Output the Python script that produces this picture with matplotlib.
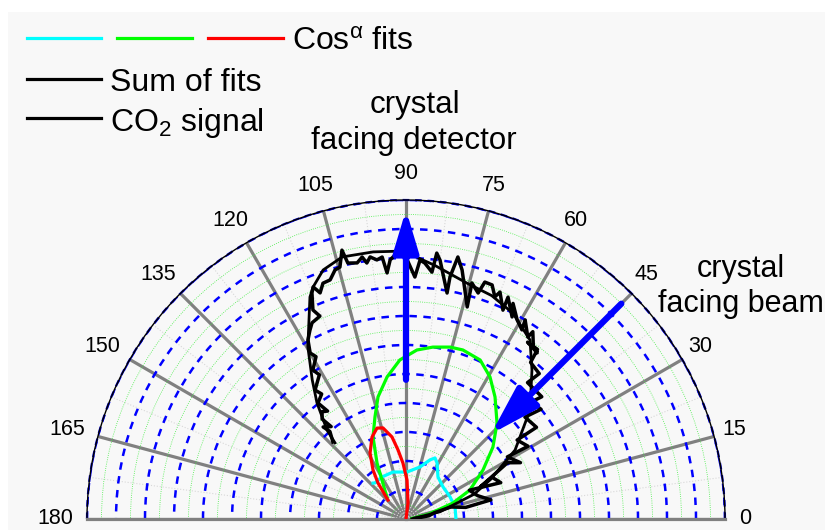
import numpy as np
import matplotlib
matplotlib.use('Agg')
import matplotlib.pyplot as plt
from matplotlib.ticker import FixedLocator, NullFormatter
from matplotlib.lines import Line2D
from matplotlib.patches import Rectangle

plt.rcParams['font.family'] = ['Liberation Sans', 'DejaVu Sans']
plt.rcParams['mathtext.fontset'] = 'custom'
plt.rcParams['mathtext.rm'] = 'Liberation Sans'
plt.rcParams['mathtext.it'] = 'Liberation Sans:italic'

# ---------------- data (angle in degrees, radius) ----------------
signal_deg = [3, 8, 12.5, 15, 11, 12.7, 18, 24.4, 21, 25.8, 23.4, 29, 26.2, 31.5, 30.8, 35.4,
              35.1, 40.6, 39.1, 43.1, 42, 48.3, 47.5, 51.5, 52.2, 55.5, 51.7, 53.6, 55.9, 56.2,
              59.1, 58.5, 60.8, 63.6, 62.3, 65.3, 65.1, 67.5, 68.2, 69.8, 71.6, 72.3, 74.4, 73.9,
              77.3, 78.8, 79.7, 79.7, 82.5, 83.4, 84, 85.8, 86.9, 87.9, 90.2, 91.3, 93.5, 94.4,
              95.2, 96.4, 97.8, 98.7, 99.5, 100.8, 102.8, 103.1, 103.4, 104.7, 105.9, 107.6,
              109.4, 110.8, 111.8, 112.6, 114, 113, 115.6, 117, 118.7, 120, 119, 122, 121,
              125.2, 124, 127.2, 126, 128, 130, 129, 132, 131, 133.5]
signal_r = [0.03, 0.08, 0.10, 0.16, 0.21, 0.30, 0.26, 0.24, 0.35, 0.33, 0.28, 0.40, 0.44, 0.41,
            0.49, 0.47, 0.55, 0.54, 0.60, 0.59, 0.63, 0.63, 0.68, 0.69, 0.74, 0.74, 0.73, 0.74,
            0.78, 0.755, 0.80, 0.765, 0.786, 0.83, 0.787, 0.842, 0.794, 0.847, 0.825, 0.86,
            0.861, 0.818, 0.845, 0.761, 0.88, 0.921, 0.848, 0.792, 0.90, 0.923, 0.856, 0.885,
            0.894, 0.835, 0.91, 0.928, 0.895, 0.851, 0.907, 0.899, 0.912, 0.893, 0.916, 0.899,
            0.905, 0.928, 0.953, 0.898, 0.893, 0.865, 0.862, 0.834, 0.862, 0.844, 0.789, 0.76,
            0.75, 0.73, 0.704, 0.661, 0.64, 0.606, 0.58, 0.544, 0.52, 0.502, 0.46, 0.47, 0.45,
            0.41, 0.427, 0.40, 0.366]

sum_deg = [2, 12, 20, 25, 32.3, 41.3, 49.8, 55.3, 62.6, 69, 75.5, 83.5, 90.6, 97, 103.7,
           108.4, 111.8, 113.4, 119.7, 124, 127.5, 131.6, 133]
sum_r = [0.02, 0.12, 0.25, 0.32, 0.445, 0.569, 0.673, 0.751, 0.80, 0.825, 0.84, 0.88, 0.924,
         0.928, 0.93, 0.905, 0.862, 0.834, 0.683, 0.578, 0.504, 0.41, 0.359]

cyan_deg = [0, 2.3, 13.8, 26.6, 40.9, 52.7, 61, 64.6, 67.9, 74.9, 88.8, 105.5, 119.7, 130.7, 132.5]
cyan_r = [0.172, 0.172, 0.174, 0.170, 0.169, 0.182, 0.221, 0.233, 0.220, 0.186, 0.162, 0.168,
          0.167, 0.164, 0.168]

green_deg = [5, 12, 18.8, 24.4, 32.5, 39.6, 46.5, 53.9, 59.4, 65.0, 71.4, 75.6, 81.1, 86.3,
             92.2, 97.6, 102.9, 106.9, 111.9, 117.4, 121.6, 126, 130.8]
green_r = [0.02, 0.08, 0.171, 0.242, 0.315, 0.389, 0.456, 0.521, 0.569, 0.605, 0.615, 0.612,
           0.600, 0.584, 0.549, 0.494, 0.432, 0.368, 0.305, 0.217, 0.158, 0.125, 0.10]

red_deg = [75, 82.9, 88.5, 93.1, 96.6, 99.7, 104.2, 107.7, 112.5, 118.6, 123.9, 127.9, 131.2, 133.5]
red_r = [0.0, 0.056, 0.134, 0.193, 0.240, 0.287, 0.324, 0.329, 0.306, 0.259, 0.204, 0.157,
         0.110, 0.090]

# arrows: (angle, tail r, tip r)
arrow_detector = (90, 0.48, 1.066)
arrow_beam = (45, 1.05, 0.415)

angle_ticks = list(range(0, 181, 15))
angle_labels = [str(a) for a in angle_ticks]

# ---------------- figure ----------------
W, H = 825, 530
fig = plt.figure(figsize=(W / 100, H / 100), dpi=100)
fig.patch.set_facecolor('white')
fig.add_artist(Rectangle((8 / W, 0), (W - 8) / W, (H - 12) / H, transform=fig.transFigure,
                         facecolor='#f8f8f8', edgecolor='none', zorder=-10))

cx, cy, R = 406, 519, 319
# half-disk occupies the full width and the middle half of a square axes box
ax = fig.add_axes([(cx - R) / W, (H - (cy + R / 2)) / H, 2 * R / W, 2 * R / H],
                  projection='polar')
ax.set_aspect('auto')
ax.set_facecolor('none')
ax.set_thetamin(0)
ax.set_thetamax(180)
ax.set_ylim(0, 1.1)

ax.xaxis.set_major_locator(FixedLocator(np.deg2rad(angle_ticks)))
ax.xaxis.set_minor_locator(FixedLocator(np.deg2rad(np.arange(7.5, 180, 15))))
ax.xaxis.set_major_formatter(NullFormatter())
ax.xaxis.set_minor_formatter(NullFormatter())
ax.yaxis.set_major_locator(FixedLocator(np.round(np.arange(0.1, 1.11, 0.1), 2)))
ax.yaxis.set_minor_locator(FixedLocator(np.round(np.arange(0.05, 1.1, 0.1), 3)))
ax.yaxis.set_major_formatter(NullFormatter())
ax.yaxis.set_minor_formatter(NullFormatter())
ax.tick_params(axis='y', which='both', length=0)
ax.tick_params(axis='x', which='both', direction='in', length=6, width=1, color='black')

ax.grid(which='major', axis='x', color='#808080', lw=2.3, ls='-')
ax.grid(which='minor', axis='x', color='#d8d8d8', lw=0.8, ls=':')
ax.grid(which='major', axis='y', color='#0000ff', lw=1.8, ls=(0, (3, 2.6)))
ax.grid(which='minor', axis='y', color='#44ee44', lw=0.6, ls=':')

ax.spines['polar'].set_color('black')
ax.spines['polar'].set_linewidth(1.0)
for s in ('start', 'end'):
    ax.spines[s].set_color('#808080')
    ax.spines[s].set_linewidth(2.3)

# outer boundary circle, blue dashes over the black rim
rim = np.linspace(0, np.pi, 200)
ax.plot(rim, np.full_like(rim, 1.1), color='#0000cc', lw=1.6, ls=(0, (3, 2.6)),
        clip_on=False, zorder=2.5)

# curves
ax.plot(np.deg2rad(cyan_deg), cyan_r, color='#00ffff', lw=2.3, zorder=3)
ax.plot(np.deg2rad(green_deg), green_r, color='#00ff00', lw=2.3, zorder=3)
ax.plot(np.deg2rad(red_deg), red_r, color='#ff0000', lw=2.3, zorder=3)
ax.plot(np.deg2rad(sum_deg), sum_r, color='black', lw=2.0, zorder=4)
ax.plot(np.deg2rad(signal_deg), signal_r, color='black', lw=2.5, zorder=4)

# arrows
for (ang, r0, r1), hl, hw in ((arrow_detector, 25, 7.5), (arrow_beam, 30, 9)):
    ax.annotate('', xy=(np.deg2rad(ang), r1), xytext=(np.deg2rad(ang), r0),
                arrowprops=dict(arrowstyle=f'-|>,head_length={hl},head_width={hw}',
                                mutation_scale=1, color='#0000ff', lw=4.5,
                                shrinkA=0, shrinkB=0, capstyle='round'),
                zorder=5)

# angle labels
for a, lab in zip(angle_ticks, angle_labels):
    dx = -4 * abs(np.cos(np.deg2rad(a)))
    ax.annotate(lab, xy=(np.deg2rad(a), 1.19), xytext=(dx, 0), textcoords='offset points',
                ha='center', va='center', fontsize=15.5, annotation_clip=False)

# annotations
def ft(x, y, s, **kw):
    fig.text(x / W, 1 - y / H, s, **kw)

ft(415, 113, 'crystal', ha='center', va='baseline', fontsize=22.5)
ft(414, 149, 'facing detector', ha='center', va='baseline', fontsize=22.5)
ft(741, 277, 'crystal', ha='center', va='baseline', fontsize=22)
ft(741, 312, 'facing beam', ha='center', va='baseline', fontsize=22)

# legend
def fl(x0, x1, y, c):
    fig.add_artist(Line2D([x0 / W, x1 / W], [1 - y / H, 1 - y / H], color=c, lw=2.3,
                          transform=fig.transFigure))

fl(27, 101, 38, '#00ffff')
fl(117, 192, 38, '#00ff00')
fl(208, 283, 38, '#ff0000')
fl(27, 101, 79, 'black')
fl(27, 101, 118, 'black')
ft(292, 50, r'Cos$^{\mathregular{α}}$ fits', ha='left', va='baseline', fontsize=23)
ft(110, 91, 'Sum of fits', ha='left', va='baseline', fontsize=23)
ft(110, 131, r'CO$_{\mathregular{2}}$ signal', ha='left', va='baseline', fontsize=23)

fig.savefig('out.png', dpi=100)
